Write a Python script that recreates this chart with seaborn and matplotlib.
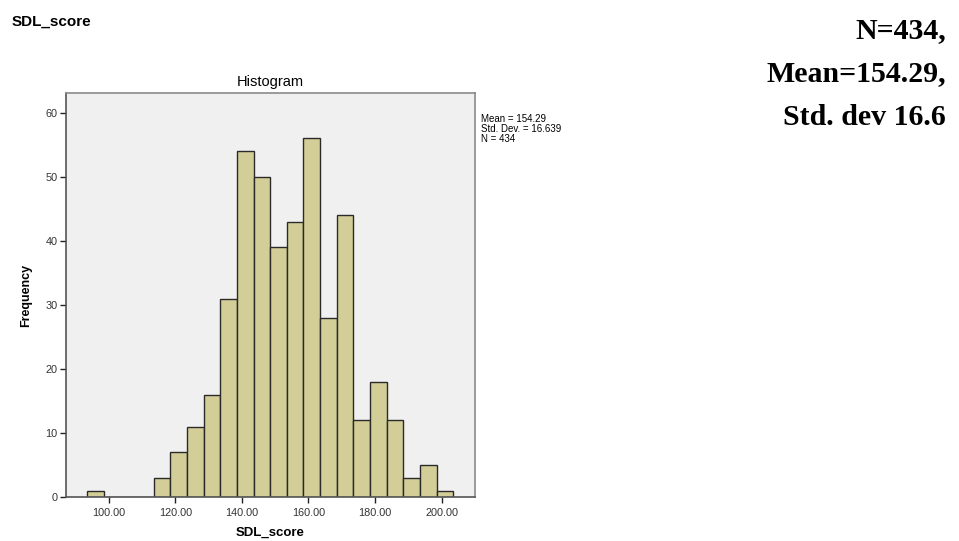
import matplotlib
matplotlib.use("Agg")
import matplotlib.pyplot as plt
import seaborn as sns
import pandas as pd

# SDL score histogram: bin centers (width 5) and their frequencies
bin_centers = [96, 101, 106, 111, 116, 121, 126, 131, 136, 141, 146, 151,
               156, 161, 166, 171, 176, 181, 186, 191, 196, 201]
frequencies = [1, 0, 0, 0, 3, 7, 11, 16, 31, 54, 50, 39,
               43, 56, 28, 44, 12, 18, 12, 3, 5, 1]
x_ticks = [100, 120, 140, 160, 180, 200]
y_ticks = [0, 10, 20, 30, 40, 50, 60]
stats_lines = ["Mean = 154.29", "Std. Dev. = 16.639", "N = 434"]
summary_lines = ["N=434,", "Mean=154.29,", "Std. dev 16.6"]

df = pd.DataFrame({"SDL_score": bin_centers, "count": frequencies})

sns.set_style("white")
plt.rcParams["font.family"] = ["Liberation Sans", "DejaVu Sans"]
plt.rcParams["text.color"] = "black"
plt.rcParams["axes.labelcolor"] = "black"

fig = plt.figure(figsize=(9.59, 5.41), dpi=100)
ax = fig.add_axes([66 / 959, 44 / 541, 409 / 959, 404 / 541])
ax.set_facecolor("#f0f0f0")

sns.histplot(data=df, x="SDL_score", weights="count", binwidth=5,
             binrange=(93.5, 203.5), color="#d3ce97", alpha=1,
             edgecolor="#2a2a2a", linewidth=1.0, ax=ax)

ax.set_xlim(87.2, 210)
ax.set_ylim(0, 63.1)
ax.set_xticks(x_ticks)
ax.set_xticklabels([f"{v:.2f}" for v in x_ticks])
ax.set_yticks(y_ticks)
ax.tick_params(axis="both", direction="out", length=4, width=1,
               color="#222222", labelsize=7.8, labelcolor="#333333", pad=2,
               bottom=True, left=True)
ax.tick_params(axis="x", pad=4)
for s in ax.spines.values():
    s.set_color("#8a8a8a")
    s.set_linewidth(1.2)
ax.spines["left"].set_color("#555555")
ax.spines["bottom"].set_color("#555555")

ax.set_title("Histogram", fontsize=10.5, pad=5, color="black")
ax.set_xlabel("SDL_score", fontsize=9.5, fontweight="bold", labelpad=6)
ax.set_ylabel("Frequency", fontsize=9, fontweight="bold", labelpad=10)

# Descriptive statistics next to the panel
ax.text(1.015, 0.948, "\n".join(stats_lines), transform=ax.transAxes,
        fontsize=7, va="top", ha="left", linespacing=1.0, color="black")

# Variable name at top-left
fig.text(12 / 959, 1 - 22 / 541, "SDL_score", fontsize=11, fontweight="bold",
         va="center", ha="left", color="black")

# Summary in large serif type at top-right
for i, line in enumerate(summary_lines):
    fig.text(946 / 959, 1 - (38 + 43.5 * i) / 541, line,
             family=["Liberation Serif", "DejaVu Serif"], fontweight="bold",
             fontsize=21.5, ha="right", va="baseline", color="black")

fig.savefig("out.png", dpi=100)
